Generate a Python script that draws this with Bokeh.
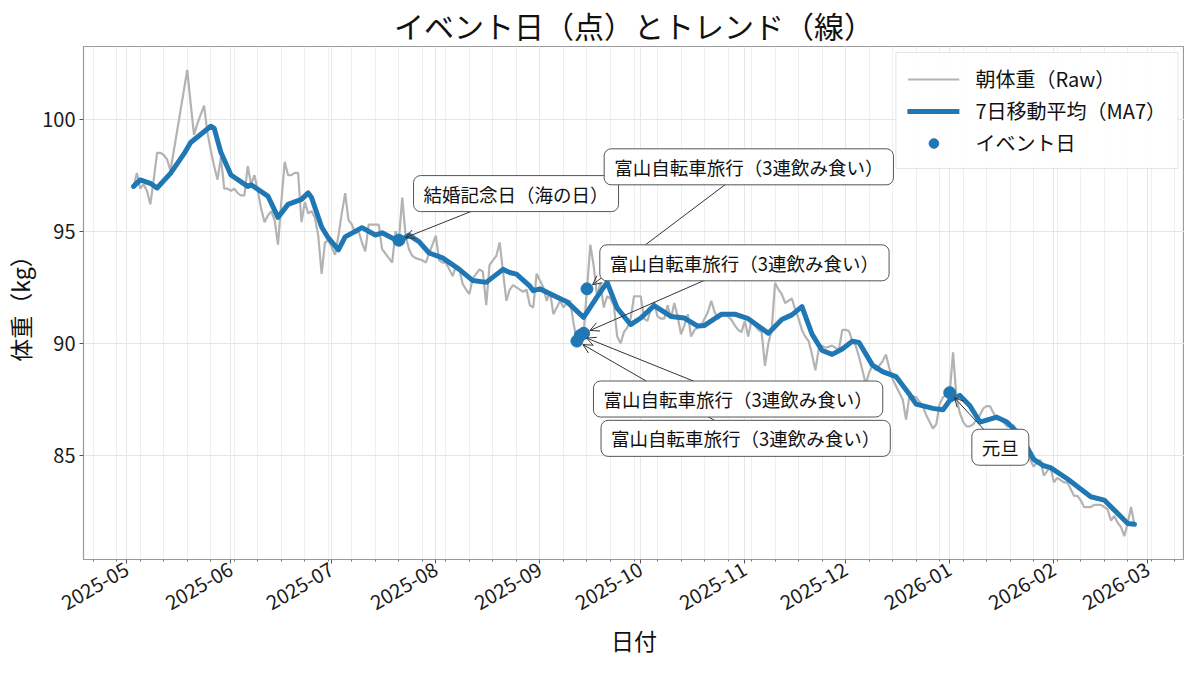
import math
import pandas as pd
from bokeh.plotting import figure
from bokeh.models import (ColumnDataSource, Range1d, FixedTicker, DatetimeTickFormatter,
                          Label, Arrow, OpenHead, Legend, LegendItem, Title)
from bokeh.embed import file_html
from bokeh.resources import INLINE

FONT = "Noto Sans CJK JP"

# ---------------- data ----------------
RAW_START = "2025-05-03"
raw_weight = [
    97.0, 97.6, 96.9, 97.1, 96.8, 96.2, 97.3, 98.5, 98.5,
    98.4, 98.2, 97.7, 98.6, 99.5, 100.4, 101.3, 102.2, 100.7, 99.3,
    99.8, 100.2, 100.6, 99.4, 98.6, 97.9, 97.3, 98.3, 96.9, 96.9,
    96.8, 96.9, 96.7, 96.6, 96.6, 97.9, 97.1, 97.5, 96.8, 96.0,
    95.4, 95.7, 95.9, 95.5, 94.4, 96.3, 98.1, 97.5, 97.5, 97.6,
    97.6, 95.4, 96.3, 95.8, 95.9, 95.6, 94.8, 93.1, 94.5, 94.6,
    94.3, 93.95, 94.8, 95.8, 96.7, 95.5, 95.3, 94.9, 95.0, 94.5,
    94.1, 95.3, 95.3, 95.3, 95.3, 94.2, 94.0, 93.8, 93.6, 95.0,
    94.6, 96.5, 94.8, 94.2, 93.9, 93.8, 93.75, 93.7, 93.6, 94.0,
    94.4, 94.8, 93.7, 93.6, 93.6, 93.3, 93.0, 93.45, 93.3, 92.65,
    92.4, 92.2, 92.9, 93.1, 93.3, 93.2, 91.7, 93.5, 93.7, 93.9,
    94.5, 93.2, 91.9, 92.4, 92.6, 92.5, 92.4, 92.3, 92.4, 91.7,
    91.6, 93.1, 92.8, 92.5, 91.9, 92.3, 91.3, 91.6, 91.9, 91.6,
    91.8, 91.9, 90.9, 90.1, 90.35, 90.45, 92.43, 94.4, 93.45, 92.1,
    92.7, 91.6, 92.1, 92.0, 91.7, 90.3, 90.0, 90.5, 90.7, 91.1,
    92.1, 92.1, 92.1, 91.1, 91.0, 91.5, 91.85, 91.2, 91.1, 91.1,
    91.7, 91.1, 91.8, 91.2, 90.4, 90.8, 91.3, 90.3, 90.6, 90.7,
    90.8, 91.1, 91.4, 91.9, 91.4, 91.1, 91.2, 91.3, 91.2, 91.05,
    90.8, 90.6, 90.5, 91.0, 90.3, 91.05, 90.8, 90.6, 90.5, 89.0,
    90.0, 90.6, 92.7, 92.4, 92.2, 91.8, 91.9, 92.0, 91.5, 91.1,
    90.6, 90.3, 90.1, 89.5, 88.8, 89.75, 89.9, 89.8, 89.85, 89.9,
    89.8, 89.7, 90.6, 90.6, 90.55, 90.1, 89.9, 89.4, 88.8, 88.2,
    88.7, 89.0, 88.8, 89.0, 89.2, 89.5, 88.9, 88.4, 88.1, 87.8,
    87.5, 86.6, 87.65, 87.65, 87.6, 87.4, 87.2, 86.8, 86.5, 86.2,
    86.4, 87.3, 87.6, 87.7, 87.8, 89.6, 87.6, 86.9, 86.5, 86.3,
    86.3, 86.4, 86.6, 86.8, 87.1, 87.2, 87.2, 86.9, 86.6, 86.6,
    86.5, 86.3, 86.3, 86.35, 86.0, 85.7, 85.3, 85.1, 84.8, 84.5,
    84.7, 84.8, 84.1, 84.3, 84.5, 83.8, 84.0, 83.9, 83.8, 83.8,
    83.5, 83.2, 83.2, 83.0, 82.7, 82.7, 82.7, 82.8, 82.8, 82.8,
    82.7, 82.6, 82.1, 82.3, 82.0, 81.8, 81.4, 82.0, 82.7, 81.9,
]

# 7-day moving average (days since 2025-05-01)
MA_BASE = "2025-05-01"
ma7_day = [2, 4, 7, 9, 13, 17, 19, 25, 26, 28, 31, 36, 37, 42, 45, 48, 52, 54, 55, 58,
           60, 63, 65, 70, 74, 76, 81, 84, 87, 90, 94, 99, 103, 107, 112, 114, 116, 120, 121, 123,
           128, 131, 136, 140, 143, 146, 150, 153, 157, 162, 166, 170, 172, 177, 181, 185, 191, 195, 198, 201,
           204, 207, 210, 213, 216, 218, 222, 225, 229, 233, 235, 240, 243, 245, 248, 251, 254, 259, 262, 266,
           270, 273, 275, 280, 287, 291, 298, 300]
ma7_value = [97.0, 97.29, 97.14, 96.93, 97.58, 98.45, 98.96, 99.68, 99.6, 98.52, 97.51, 97.0, 97.07, 96.57, 95.62, 96.2, 96.42, 96.71, 96.5, 95.19,
             94.7, 94.17, 94.75, 95.16, 94.83, 94.93, 94.54, 94.83, 94.54, 94.03, 93.81, 93.3, 92.8, 92.72, 93.3, 93.16, 93.09, 92.55, 92.35, 92.43,
             92.07, 91.86, 91.16, 92.07, 92.72, 91.57, 90.84, 91.13, 91.68, 91.2, 91.13, 90.77, 90.8, 91.3, 91.3, 91.1, 90.45, 91.06, 91.27, 91.64,
             90.41, 89.68, 89.51, 89.75, 90.09, 90.04, 89.03, 88.74, 88.52, 87.73, 87.29, 87.1, 87.04, 87.45, 87.68, 87.22, 86.49, 86.71, 86.49, 85.91,
             84.83, 84.54, 84.46, 83.96, 83.16, 83.01, 81.97, 81.93]

event_dates = ["2025-07-21", "2025-09-15", "2025-09-14", "2025-09-13", "2025-09-12", "2026-01-01"]
event_names = ["結婚記念日（海の日）",
               "富山自転車旅行（3連飲み食い）",
               "富山自転車旅行（3連飲み食い）",
               "富山自転車旅行（3連飲み食い）",
               "富山自転車旅行（3連飲み食い）",
               "元旦"]

y_ticks = [85, 90, 95, 100]

TITLE = "イベント日（点）とトレンド（線）"
X_LABEL = "日付"
Y_LABEL = "体重（kg）"

# ---------------- layout / style constants ----------------
W, H = 1184, 659
B_LEFT, B_RIGHT, B_TOP, B_BOTTOM = 75, 0, 34, 100
FRAME_W = W - B_LEFT - B_RIGHT
FRAME_H = H - 38 - 104
# label-centre offsets from each event point, in screen pixels (right, up)
annot_offsets = [(118, 47), (163, 123), (162, 71), (159, -64), (170, -98), (51, -55)]

BLUE = "#1f77b4"

# ---------------- build ----------------
raw_dates = pd.date_range(RAW_START, periods=len(raw_weight), freq="D")
raw_src = ColumnDataSource(dict(date=raw_dates, w=raw_weight))
ma_dates = pd.Timestamp(MA_BASE) + pd.to_timedelta(ma7_day, unit="D")
ma_src = ColumnDataSource(dict(date=ma_dates, w=ma7_value))

raw_series = pd.Series(raw_weight, index=raw_dates)
ev_ts = pd.to_datetime(event_dates)
ev_y = [float(raw_series.loc[t]) for t in ev_ts]
ev_src = ColumnDataSource(dict(date=ev_ts, w=ev_y))


def ms(ts):
    return pd.Timestamp(ts).value / 1e6


x0, x1 = ms(raw_dates[0]), ms(raw_dates[-1])
xspan = x1 - x0
xs, xe = x0 - 0.05 * xspan, x1 + 0.05 * xspan
y0, y1 = min(raw_weight), max(raw_weight)
yspan = y1 - y0
ys, ye = y0 - 0.05 * yspan, y1 + 0.05 * yspan

p = figure(width=W, height=H, x_axis_type="datetime", output_backend="svg",
           toolbar_location=None, x_range=Range1d(xs, xe), y_range=Range1d(ys, ye),
           min_border_left=B_LEFT, min_border_right=B_RIGHT,
           min_border_top=B_TOP, min_border_bottom=B_BOTTOM)

p.title.text = TITLE
p.title.align = "center"
p.title.text_font = FONT
p.title.text_font_size = "30px"
p.title.text_font_style = "normal"
p.title.text_color = "#111111"
p.title.standoff = 0
p.title.offset = 0

p.outline_line_color = "#9a9a9a"
p.outline_line_width = 1.2
p.background_fill_color = "white"
p.border_fill_color = "white"

month_ticks = [ms(t) for t in pd.date_range("2025-05-01", "2026-03-01", freq="MS")]
monday_ticks = [ms(t) for t in pd.date_range("2025-04-14", "2026-03-16", freq="W-MON")]
p.xaxis.ticker = FixedTicker(ticks=month_ticks, minor_ticks=monday_ticks)
fmt = "%Y-%m"
p.xaxis.formatter = DatetimeTickFormatter(microseconds=fmt, milliseconds=fmt, seconds=fmt,
                                          minsec=fmt, minutes=fmt, hourmin=fmt, hours=fmt,
                                          days=fmt, months=fmt, years=fmt)
p.xaxis.major_label_orientation = math.pi / 6
p.yaxis.ticker = FixedTicker(ticks=y_ticks)

for ax in (p.xaxis[0], p.yaxis[0]):
    ax.axis_line_color = None
    ax.major_tick_line_color = "#555555"
    ax.minor_tick_line_color = "#777777"
    ax.major_tick_out = 4
    ax.major_tick_in = 0
    ax.minor_tick_out = 2
    ax.minor_tick_in = 0
    ax.major_label_text_font = FONT
    ax.major_label_text_font_size = "20px"
    ax.major_label_text_color = "#1a1a1a"
    ax.axis_label_text_font = FONT
    ax.axis_label_text_font_size = "23px"
    ax.axis_label_text_font_style = "normal"
    ax.axis_label_text_color = "#111111"
p.yaxis.minor_tick_line_color = None
p.yaxis.axis_label = Y_LABEL
p.xaxis.major_label_standoff = 4
p.xaxis.major_label_text_line_height = 0.8
p.yaxis.major_label_standoff = 4
p.yaxis.axis_label_standoff = 2

# x-axis label as a compact title panel below the axis
x_title = Title(text=X_LABEL, align="center", text_font=FONT, text_font_size="23px",
                text_font_style="normal", text_color="#111111", standoff=0, offset=0)
p.add_layout(x_title, "below")

p.xgrid.grid_line_color = "#e6e6e6"
p.xgrid.minor_grid_line_color = "#efefef"
p.ygrid.grid_line_color = "#e6e6e6"

r_raw = p.line("date", "w", source=raw_src, line_color="#b3b3b3", line_width=2.2)
r_ma = p.line("date", "w", source=ma_src, line_color=BLUE, line_width=5,
              line_join="round", line_cap="round")
r_ev = p.scatter("date", "w", source=ev_src, marker="circle", size=12,
                 fill_color=BLUE, line_color=BLUE)

legend = Legend(items=[LegendItem(label="朝体重（Raw）", renderers=[r_raw]),
                       LegendItem(label="7日移動平均（MA7）", renderers=[r_ma]),
                       LegendItem(label="イベント日", renderers=[r_ev])],
                location="top_right")
legend.label_text_font = FONT
legend.label_text_font_size = "20px"
legend.label_text_color = "#111111"
legend.glyph_width = 52
legend.glyph_height = 24
legend.label_height = 24
legend.spacing = 3
legend.padding = 11
legend.margin = 6
legend.label_standoff = 16
legend.border_line_color = "#cccccc"
legend.border_line_width = 1
legend.background_fill_alpha = 0.85
p.add_layout(legend)

px_x = FRAME_W / (xe - xs)
px_y = FRAME_H / (ye - ys)

arrows, labels = [], []
for t, yv, name, (dx, dy) in zip(ev_ts, ev_y, event_names, annot_offsets):
    px0 = ms(t)
    lx = px0 + dx / px_x
    ly = yv + dy / px_y
    L = math.hypot(dx, dy)
    shrink = 7.0
    ex = px0 + dx / L * shrink / px_x
    ey = yv + dy / L * shrink / px_y
    arrows.append(Arrow(end=OpenHead(size=9, line_color="#333333", line_width=1),
                        x_start=lx, y_start=ly, x_end=ex, y_end=ey,
                        line_color="#333333", line_width=1))
    labels.append(Label(x=lx, y=ly, text=name, text_align="center", text_baseline="middle",
                        text_font=FONT, text_font_size="18.5px", text_color="#111111",
                        background_fill_color="white", background_fill_alpha=1.0,
                        border_line_color="#555555", border_line_width=1,
                        padding=dict(left=10, right=10, top=5, bottom=5), border_radius=7))
for a in arrows:
    p.add_layout(a)
for lb in labels:
    p.add_layout(lb)

open("out.html", "w").write(file_html(p, INLINE))
